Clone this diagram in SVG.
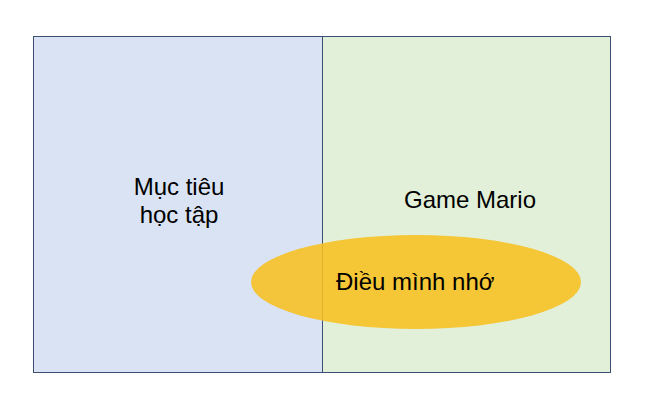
<svg xmlns="http://www.w3.org/2000/svg" width="645" height="404" viewBox="0 0 645 404">
<style>
.t{font-family:"Liberation Sans",Arial,sans-serif;font-size:24px;fill:#000}
.box{stroke:#3A4F72;stroke-width:1}
</style>
<rect width="645" height="404" fill="#fff"/>
<g id="muc-tieu">
<rect class="box" x="33.5" y="36.5" width="289" height="336" fill="#DAE3F3"/>
<text class="t" x="179" y="195" text-anchor="middle">Mục tiêu</text>
<text class="t" x="179" y="223" text-anchor="middle">học tập</text>
</g>
<g id="game-mario">
<rect class="box" x="322.5" y="36.5" width="288" height="336" fill="#E2F0D9"/>
<text class="t" x="470" y="207.5" text-anchor="middle">Game Mario</text>
</g>
<g id="dieu-minh-nho">
<ellipse cx="416" cy="282" rx="165" ry="47" fill="#F7C020" fill-opacity="0.88"/>
<text class="t" x="336" y="290">Điều mình nhớ</text>
</g>
<g id="connectors"/>
</svg>
